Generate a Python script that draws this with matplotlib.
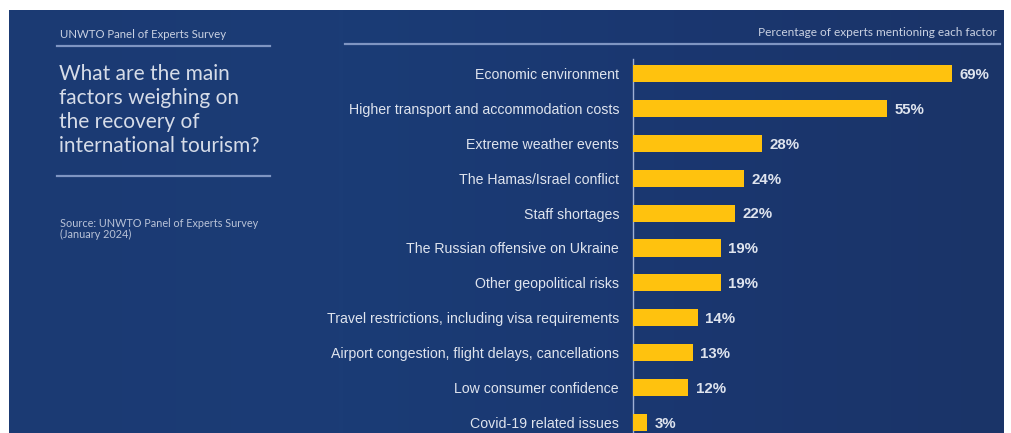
import numpy as np
import matplotlib
matplotlib.use("Agg")
import matplotlib.pyplot as plt
from matplotlib.colors import LinearSegmentedColormap

# --- data -------------------------------------------------------------------
factores = [
    "Economic environment",
    "Higher transport and accommodation costs",
    "Extreme weather events",
    "The Hamas/Israel conflict",
    "Staff shortages",
    "The Russian offensive on Ukraine",
    "Other geopolitical risks",
    "Travel restrictions, including visa requirements",
    "Airport congestion, flight delays, cancellations",
    "Low consumer confidence",
    "Covid-19 related issues",
]
porcentajes = [69, 55, 28, 24, 22, 19, 19, 14, 13, 12, 3]

titulo = "What are the main\nfactors weighing on\nthe recovery of\ninternational tourism?"
encabezado = "UNWTO Panel of Experts Survey"
subtitulo = "Percentage of experts mentioning each factor"
fuente = "Source: UNWTO Panel of Experts Survey\n(January 2024)"

AMARILLO = "#FFC20E"
TEXTO = "#dfe4ee"
LINEA = "#7f95c2"

W, H = 1012, 433
fig = plt.figure(figsize=(W / 100, H / 100), dpi=100)
fig.patch.set_facecolor("white")

def fx(px):
    return px / W

def fy(py):
    return 1 - py / H

# --- fondo azul con degradado -------------------------------------------------
bg = fig.add_axes([fx(9), 0, fx(1004 - 9), fy(10)])
cmap = LinearSegmentedColormap.from_list(
    "fondo", ["#1b3a73", "#1b3c76", "#1a3770", "#1b3468"])
bg.imshow(np.linspace(0, 1, 256)[None, :], aspect="auto", cmap=cmap,
          extent=[0, 1, 0, 1])
bg.set_axis_off()

# --- panel izquierdo ----------------------------------------------------------
fig.text(fx(60), fy(35), encabezado, fontsize=8.2, color="#c9d1e2",
         family="Lato", va="center", ha="left")
fig.add_artist(plt.Line2D([fx(57), fx(270)], [fy(46), fy(46)],
                          color=LINEA, lw=1.6))
fig.text(fx(59), fy(110), titulo, fontsize=15, color="#d6dce8", family="Lato",
         va="center", ha="left", linespacing=1.27)
fig.add_artist(plt.Line2D([fx(57), fx(270)], [fy(176), fy(176)],
                          color=LINEA, lw=1.6))
fig.text(fx(60), fy(229), fuente, fontsize=7.8, color="#b9c3d8",
         family="Lato", va="center", ha="left", linespacing=1.1)

# --- encabezado derecho -------------------------------------------------------
fig.text(fx(997), fy(33), subtitulo, fontsize=8.6, color="#c9d1e2",
         family="Lato", va="center", ha="right")
fig.add_artist(plt.Line2D([fx(345), fx(1000)], [fy(44), fy(44)],
                          color=LINEA, lw=1.6))

# --- barras -------------------------------------------------------------------
escala = 4.62          # px por punto porcentual
x0 = 633
x1 = 1000
ax = fig.add_axes([fx(x0), 0, fx(x1 - x0), fy(56)])
ax.patch.set_alpha(0)

pos = np.arange(len(factores))
ax.barh(pos, porcentajes, height=0.49, color=AMARILLO, zorder=3)
ax.set_xlim(0, (x1 - x0) / escala)
ax.set_ylim(10.30, -0.5)

for y, v in zip(pos, porcentajes):
    ax.text(v + 1.6, y + 0.04, f"{v}%", fontsize=10.8, fontweight="bold",
            color=TEXTO, family="Liberation Sans", va="center", ha="left")

ax.set_yticks(pos)
ax.set_yticklabels(factores, fontsize=10.2, color=TEXTO, family="Liberation Sans")
ax.tick_params(axis="y", length=0, pad=10)
ax.set_xticks([])
for s in ["top", "right", "bottom"]:
    ax.spines[s].set_visible(False)
ax.spines["left"].set_color("#9fb0d4")
ax.spines["left"].set_linewidth(1.0)
ax.spines["left"].set_bounds(10.30, -0.4)

fig.savefig("out.png", dpi=100, facecolor=fig.get_facecolor())
